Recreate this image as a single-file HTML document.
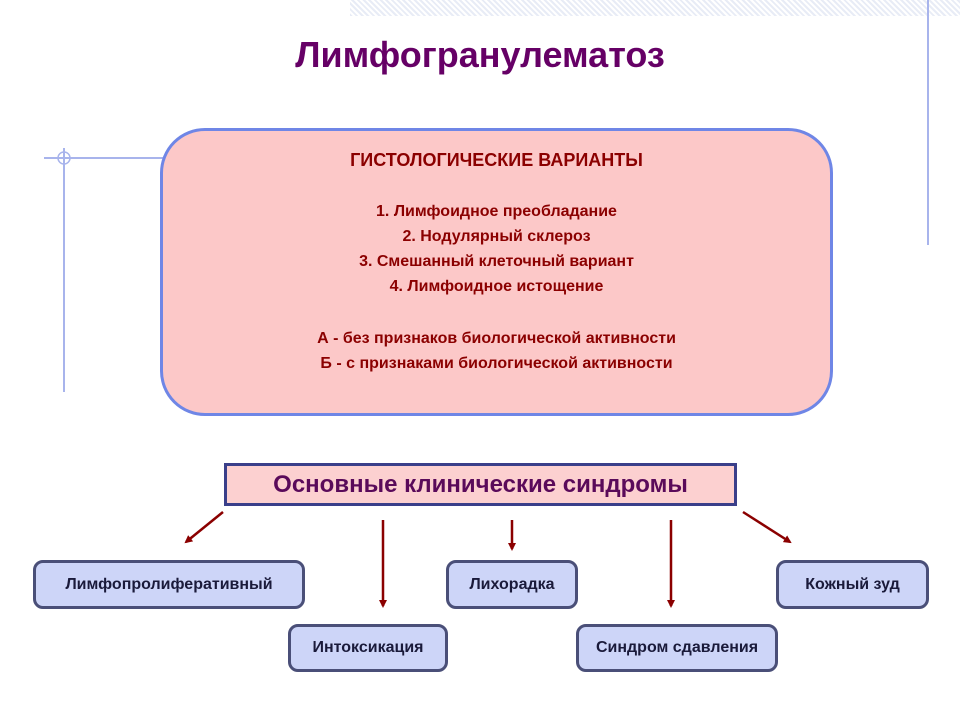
<!DOCTYPE html>
<html><head><meta charset="utf-8"><style>
body{margin:0;width:960px;height:720px;background:#fff;position:relative;overflow:hidden;font-family:"Liberation Sans",sans-serif;font-weight:bold}
.b{position:absolute;box-sizing:border-box;background:#cdd5f8;border:3px solid #4a4f78;border-radius:10px;display:flex;align-items:center;justify-content:center;font-size:16px;color:#1a1a3a}
</style></head><body>
<div style="position:absolute;left:350px;top:0;width:610px;height:16px;background:repeating-linear-gradient(45deg,#e6eaf6 0 2px,#fff 2px 4px),#eef;opacity:.9"></div>
<svg width="960" height="720" style="position:absolute;left:0;top:0">
<line x1="928" y1="0" x2="928" y2="245" stroke="#a8b4ec" stroke-width="2"/>
<line x1="64" y1="148" x2="64" y2="392" stroke="#a8b4ec" stroke-width="2"/>
<line x1="44" y1="158" x2="165" y2="158" stroke="#a8b4ec" stroke-width="2"/>
<circle cx="64" cy="158" r="6" fill="none" stroke="#a8b4ec" stroke-width="1.5"/>
<defs><marker id="a" markerWidth="8" markerHeight="8" refX="6" refY="4" orient="auto" markerUnits="userSpaceOnUse"><path d="M0,0 L8,4 L0,8 z" fill="#8b0000"/></marker></defs>
<g stroke="#8b0000" stroke-width="2.5" marker-end="url(#a)">
<line x1="223" y1="512" x2="186" y2="542"/>
<line x1="383" y1="520" x2="383" y2="606"/>
<line x1="512" y1="520" x2="512" y2="549"/>
<line x1="671" y1="520" x2="671" y2="606"/>
<line x1="743" y1="512" x2="790" y2="542"/>
</g>
</svg>
<div style="position:absolute;left:0;width:960px;top:34px;text-align:center;font-size:36px;color:#660066">Лимфогранулематоз</div>
<div style="position:absolute;left:160px;top:128px;width:673px;height:288px;box-sizing:border-box;background:#fcc8c8;border:3px solid #6f86e6;border-radius:45px;color:#8b0000;text-align:center;font-size:16px;line-height:25px;padding-top:17px">
<div style="font-size:18px;margin-bottom:26px">ГИСТОЛОГИЧЕСКИЕ ВАРИАНТЫ</div>
1. Лимфоидное преобладание<br>2. Нодулярный склероз<br>3. Смешанный клеточный вариант<br>4. Лимфоидное истощение
<div style="margin-top:27px">А - без признаков биологической активности<br>Б - с признаками биологической активности</div>
</div>
<div style="position:absolute;left:224px;top:463px;width:513px;height:43px;box-sizing:border-box;background:#fcd0d0;border:3px solid #3a3f8a;display:flex;align-items:center;justify-content:center;font-size:24px;color:#5a0a5a">Основные клинические синдромы</div>
<div class="b" style="left:33px;top:560px;width:272px;height:49px">Лимфопролиферативный</div>
<div class="b" style="left:288px;top:624px;width:160px;height:48px">Интоксикация</div>
<div class="b" style="left:446px;top:560px;width:132px;height:49px">Лихорадка</div>
<div class="b" style="left:576px;top:624px;width:202px;height:48px">Синдром сдавления</div>
<div class="b" style="left:776px;top:560px;width:153px;height:49px">Кожный зуд</div>
</body></html>
